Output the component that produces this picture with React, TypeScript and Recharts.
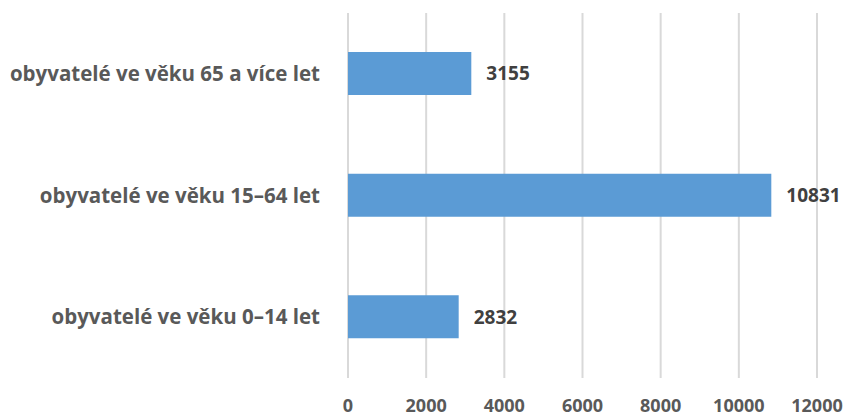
import { BarChart, Bar, XAxis, YAxis, CartesianGrid, LabelList } from 'recharts';

const categories = [
  'obyvatelé ve věku 65 a více let',
  'obyvatelé ve věku 15–64 let',
  'obyvatelé ve věku 0–14 let',
];
const values = [3155, 10831, 2832];
const xTicks = [0, 2000, 4000, 6000, 8000, 10000, 12000];

const data = categories.map((name, i) => ({ name, value: values[i] }));

const FONT = '"Open Sans", sans-serif';

const XTick = ({ x, y, payload }: any) => (
  <text
    x={x}
    y={y + 26}
    textAnchor="middle"
    fontFamily={FONT}
    fontWeight="bold"
    fontSize={18}
    fill="#595959"
  >
    {payload.value}
  </text>
);

const YTick = ({ x, y, payload }: any) => (
  <text
    x={x - 20}
    y={y}
    dy={7}
    textAnchor="end"
    fontFamily={FONT}
    fontWeight="bold"
    fontSize={20.5}
    fill="#595959"
  >
    {payload.value}
  </text>
);

const App = () => {
  return (
    <div style={{ position: 'absolute', left: 0, top: 0, background: '#fff' }}>
      <BarChart
        width={849}
        height={418}
        data={data}
        layout="vertical"
        margin={{ top: 13, right: 32, bottom: 0, left: 0 }}
        barSize={43}
      >
        <CartesianGrid horizontal={false} stroke="#d9d9d9" strokeWidth={2} />
        <XAxis
          type="number"
          domain={[0, 12000]}
          ticks={xTicks}
          axisLine={false}
          tickLine={false}
          height={40}
          tick={<XTick />}
          interval={0}
        />
        <YAxis
          type="category"
          dataKey="name"
          width={348}
          axisLine={false}
          tickLine={false}
          tick={<YTick />}
        />
        <Bar dataKey="value" fill="#5B9BD5" isAnimationActive={false}>
          <LabelList
            dataKey="value"
            position="right"
            offset={15}
            fill="#404040"
            fontFamily={FONT}
            fontWeight="bold"
            fontSize={19}
          />
        </Bar>
      </BarChart>
    </div>
  );
};

export default App;
